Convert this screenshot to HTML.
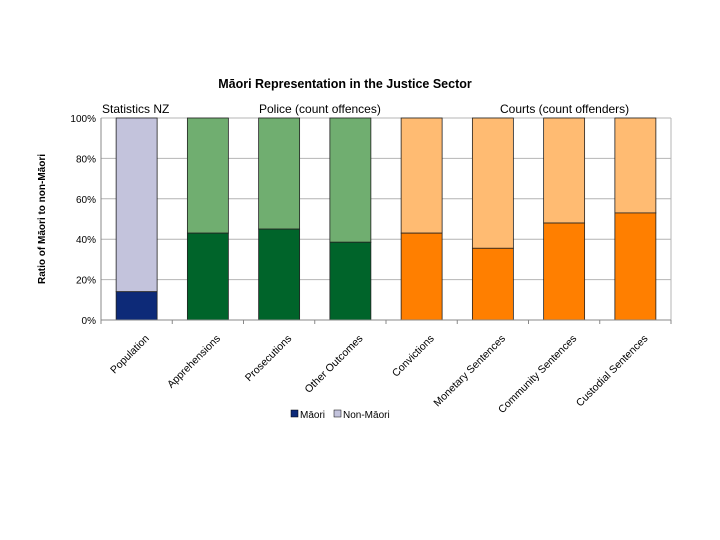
<!DOCTYPE html>
<html><head><meta charset="utf-8"><style>
body{margin:0;background:#fff;}
svg{display:block;font-family:"Liberation Sans",Arial,sans-serif;}
</style></head><body>
<svg id="chart" width="720" height="540">
<text x="345" y="88" text-anchor="middle" font-size="12.5" font-weight="bold" fill="#000">Māori Representation in the Justice Sector</text>
<text x="102" y="113" font-size="12" fill="#000">Statistics NZ</text>
<text x="259" y="113" font-size="12" fill="#000">Police (count offences)</text>
<text x="500" y="113" font-size="12" fill="#000">Courts (count offenders)</text>
<text transform="translate(45,219) rotate(-90)" text-anchor="middle" font-size="10" font-weight="bold" fill="#000">Ratio of Māori to non-Māori</text>
<g id="grid"></g><g id="bars"></g><g id="axes"></g>
<g>
<rect x="291" y="410" width="7" height="7" fill="#0d2a78" stroke="#000" stroke-width="0.5"/>
<text x="300" y="418" font-size="10" fill="#000">Māori</text>
<rect x="334" y="410" width="7" height="7" fill="#c3c3dc" stroke="#000" stroke-width="0.5"/>
<text x="343" y="418" font-size="10" fill="#000">Non-Māori</text>
</g>
</svg>
<script>
const categories=["Population","Apprehensions","Prosecutions","Other Outcomes","Convictions","Monetary Sentences","Community Sentences","Custodial Sentences"];
const maoriValues=[14,43,45,38.5,43,35.5,48,53];
const yTicks=[0,20,40,60,80,100];
const NS="http://www.w3.org/2000/svg";
const X0=101,X1=671,Y0=320,Y1=118;
const band=(X1-X0)/categories.length, bw=41;
const y=v=>Y0-(v/100)*(Y0-Y1);
const xc=i=>X0+band*(i+0.5);
const colors=[["#0d2a78","#c3c3dc"],["#00642a","#70ae70"],["#00642a","#70ae70"],["#00642a","#70ae70"],["#ff7f00","#ffbb72"],["#ff7f00","#ffbb72"],["#ff7f00","#ffbb72"],["#ff7f00","#ffbb72"]];
function mk(tag,attrs,parent){const e=document.createElementNS(NS,tag);for(const k in attrs)e.setAttribute(k,attrs[k]);parent.appendChild(e);return e;}
const grid=document.getElementById('grid'),bars=document.getElementById('bars'),axes=document.getElementById('axes');
yTicks.forEach(t=>{
 const l=mk('line',{x1:X0,x2:X1,y1:y(t),y2:y(t),stroke:'#b4b4b4','stroke-width':1},grid);
 
 
 const tx=mk('text',{x:X0-5,y:y(t)+4,'text-anchor':'end','font-size':10,fill:'#000'},axes);
 tx.textContent=t+'%';
 
 
});
mk('line',{x1:X1,x2:X1,y1:Y1,y2:Y0,stroke:'#b4b4b4'},grid);
categories.forEach((c,i)=>{
 const x=xc(i)-bw/2, m=maoriValues[i];
 const r2=mk('rect',{x:x,y:y(100),width:bw,height:y(m)-y(100),fill:colors[i][1],stroke:'#222','stroke-width':0.8},bars);
 
 
 const r1=mk('rect',{x:x,y:y(m),width:bw,height:Y0-y(m),fill:colors[i][0],stroke:'#222','stroke-width':0.8},bars);
 
 
 const t=mk('text',{transform:`translate(${xc(i)+13},${Y0+19}) rotate(-45)`,'text-anchor':'end','font-size':10.5,fill:'#000'},axes);
 t.textContent=c;
 
 
});
for(let i=0;i<=categories.length;i++){mk('line',{x1:X0+band*i,x2:X0+band*i,y1:Y0,y2:Y0+4,stroke:'#888'},axes);}
mk('line',{x1:X0,x2:X1,y1:Y0,y2:Y0,stroke:'#888'},axes);
mk('line',{x1:X0,x2:X0,y1:Y1,y2:Y0,stroke:'#888'},axes);
</script>
</body></html>
